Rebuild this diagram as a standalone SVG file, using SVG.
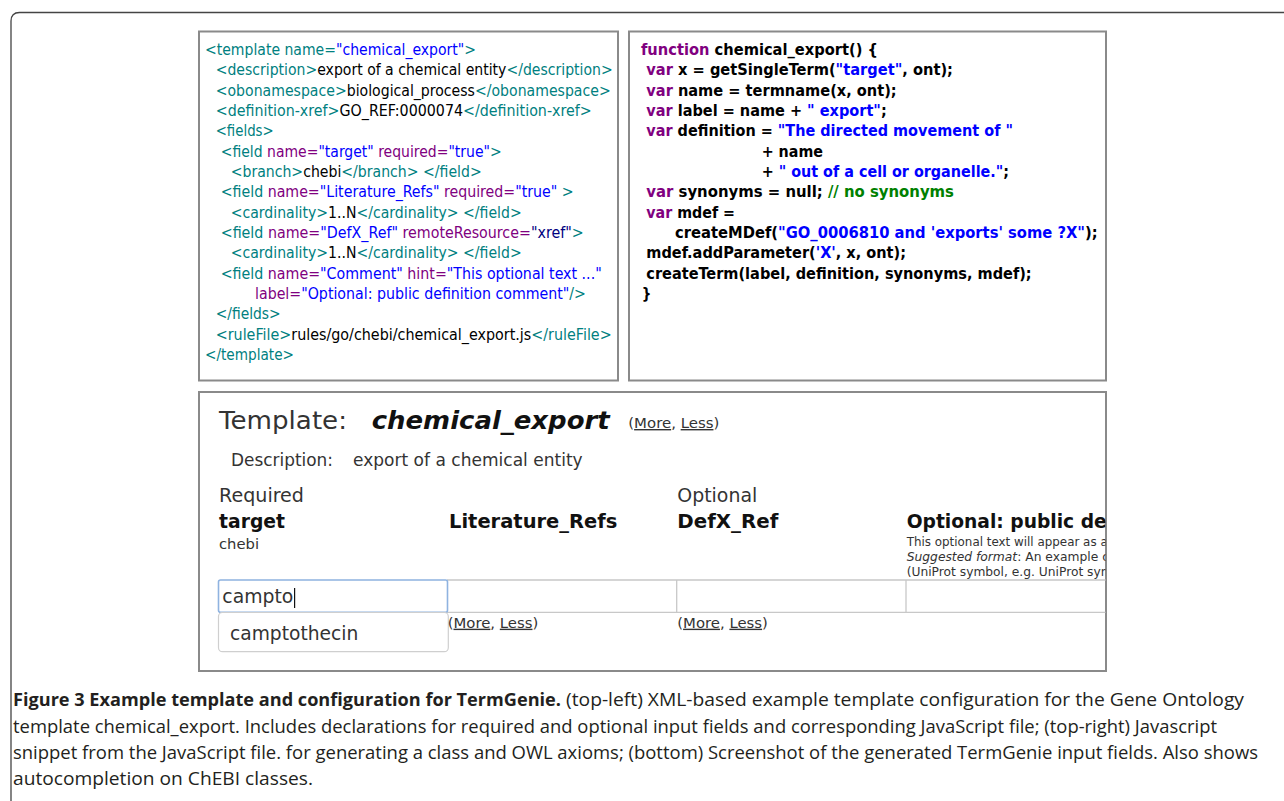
<svg xmlns="http://www.w3.org/2000/svg" width="1284" height="801" viewBox="0 0 1284 801">
<style>
.code{font-family:"DejaVu Sans Condensed","DejaVu Sans",Verdana,sans-serif;font-size:15px;}
.js{font-family:"DejaVu Sans Condensed","DejaVu Sans",Verdana,sans-serif;font-size:15px;font-weight:bold;fill:#000;}
.t{fill:#008080;}
.a{fill:#800080;}
.v{fill:#0000ff;}
.n{fill:#000080;}
.k{fill:#000;}
.p{fill:#800080;}
.g{fill:#008000;}
.box{fill:#fff;stroke:#8a8a8a;stroke-width:2;}
.ui{font-family:"DejaVu Sans",Verdana,sans-serif;fill:#333;}
.b{font-weight:bold;fill:#111;}
.u{text-decoration:underline;}
.cap{font-family:"Liberation Sans Narrow","Open Sans",sans-serif;font-size:18px;fill:#231f20;}
.grid{stroke:#c8c8c8;stroke-width:1.3;fill:none;}
</style>
<defs>
<clipPath id="shotclip"><rect x="200" y="392" width="905.5" height="278"/></clipPath>
</defs>
<rect width="1284" height="801" fill="#fff"/>
<path d="M11,801 V21 Q11,12.5 19.5,12.5 H1284" fill="none" stroke="#444" stroke-width="1.3"/>

<g id="xml-box">
<rect class="box" x="199" y="31.5" width="419" height="349"/>
<text class="code" x="205" y="55" textLength="271" lengthAdjust="spacingAndGlyphs"><tspan class="t">&lt;template name=</tspan><tspan class="v">"chemical_export"</tspan><tspan class="t">&gt;</tspan></text>
<text class="code" x="215.7" y="75.3" textLength="397" lengthAdjust="spacingAndGlyphs"><tspan class="t">&lt;description&gt;</tspan><tspan class="k">export of a chemical entity</tspan><tspan class="t">&lt;/description&gt;</tspan></text>
<text class="code" x="215.7" y="95.7" textLength="395" lengthAdjust="spacingAndGlyphs"><tspan class="t">&lt;obonamespace&gt;</tspan><tspan class="k">biological_process</tspan><tspan class="t">&lt;/obonamespace&gt;</tspan></text>
<text class="code" x="215.7" y="116" textLength="376" lengthAdjust="spacingAndGlyphs"><tspan class="t">&lt;definition-xref&gt;</tspan><tspan class="k">GO_REF:0000074</tspan><tspan class="t">&lt;/definition-xref&gt;</tspan></text>
<text class="code t" x="215.7" y="136.3" textLength="58" lengthAdjust="spacingAndGlyphs">&lt;fields&gt;</text>
<text class="code" x="220.7" y="156.7" textLength="281" lengthAdjust="spacingAndGlyphs"><tspan class="t">&lt;field </tspan><tspan class="a">name=</tspan><tspan class="v">"target"</tspan><tspan class="a"> required=</tspan><tspan class="v">"true"</tspan><tspan class="t">&gt;</tspan></text>
<text class="code" x="230.7" y="177" textLength="251" lengthAdjust="spacingAndGlyphs"><tspan class="t">&lt;branch&gt;</tspan><tspan class="k">chebi</tspan><tspan class="t">&lt;/branch&gt; &lt;/field&gt;</tspan></text>
<text class="code" x="220.7" y="197.3" textLength="353" lengthAdjust="spacingAndGlyphs"><tspan class="t">&lt;field </tspan><tspan class="a">name=</tspan><tspan class="v">"Literature_Refs"</tspan><tspan class="a"> required=</tspan><tspan class="v">"true"</tspan><tspan class="t"> &gt;</tspan></text>
<text class="code" x="230.7" y="217.7" textLength="291" lengthAdjust="spacingAndGlyphs"><tspan class="t">&lt;cardinality&gt;</tspan><tspan class="k">1..N</tspan><tspan class="t">&lt;/cardinality&gt; &lt;/field&gt;</tspan></text>
<text class="code" x="220.7" y="238" textLength="363" lengthAdjust="spacingAndGlyphs"><tspan class="t">&lt;field </tspan><tspan class="a">name=</tspan><tspan class="v">"DefX_Ref"</tspan><tspan class="a"> remoteResource=</tspan><tspan class="n">"xref"</tspan><tspan class="t">&gt;</tspan></text>
<text class="code" x="230.7" y="258.3" textLength="291" lengthAdjust="spacingAndGlyphs"><tspan class="t">&lt;cardinality&gt;</tspan><tspan class="k">1..N</tspan><tspan class="t">&lt;/cardinality&gt; &lt;/field&gt;</tspan></text>
<text class="code" x="220.7" y="278.7" textLength="381" lengthAdjust="spacingAndGlyphs"><tspan class="t">&lt;field </tspan><tspan class="a">name=</tspan><tspan class="v">"Comment"</tspan><tspan class="a"> hint=</tspan><tspan class="v">"This optional text ..."</tspan></text>
<text class="code" x="255" y="299" textLength="331" lengthAdjust="spacingAndGlyphs"><tspan class="a">label=</tspan><tspan class="v">"Optional: public definition comment"</tspan><tspan class="t">/&gt;</tspan></text>
<text class="code t" x="215.7" y="319.3" textLength="65" lengthAdjust="spacingAndGlyphs">&lt;/fields&gt;</text>
<text class="code" x="215.7" y="339.7" textLength="396" lengthAdjust="spacingAndGlyphs"><tspan class="t">&lt;ruleFile&gt;</tspan><tspan class="k">rules/go/chebi/chemical_export.js</tspan><tspan class="t">&lt;/ruleFile&gt;</tspan></text>
<text class="code t" x="205" y="360" textLength="89" lengthAdjust="spacingAndGlyphs">&lt;/template&gt;</text>
</g>

<g id="js-box">
<rect class="box" x="629" y="31.5" width="477" height="349"/>
<text class="js" x="641" y="55" textLength="237" lengthAdjust="spacingAndGlyphs"><tspan class="p">function</tspan> chemical_export() {</text>
<text class="js" x="646.3" y="75.3" textLength="306.7" lengthAdjust="spacingAndGlyphs"><tspan class="p">var</tspan> x = getSingleTerm(<tspan class="v">"target"</tspan>, ont);</text>
<text class="js" x="646.3" y="95.7" textLength="250.4" lengthAdjust="spacingAndGlyphs"><tspan class="p">var</tspan> name = termname(x, ont);</text>
<text class="js" x="646.3" y="116" textLength="240.4" lengthAdjust="spacingAndGlyphs"><tspan class="p">var</tspan> label = name + <tspan class="v">" export"</tspan>;</text>
<text class="js" x="646.3" y="136.3" textLength="366.7" lengthAdjust="spacingAndGlyphs"><tspan class="p">var</tspan> definition = <tspan class="v">"The directed movement of "</tspan></text>
<text class="js" x="761.7" y="156.7" textLength="61.3" lengthAdjust="spacingAndGlyphs">+ name</text>
<text class="js" x="761.7" y="177" textLength="247.3" lengthAdjust="spacingAndGlyphs">+ <tspan class="v">" out of a cell or organelle."</tspan>;</text>
<text class="js" x="646.3" y="197.3" textLength="307.7" lengthAdjust="spacingAndGlyphs"><tspan class="p">var</tspan> synonyms = null; <tspan class="g">// no synonyms</tspan></text>
<text class="js" x="646.3" y="217.7" textLength="88.7" lengthAdjust="spacingAndGlyphs"><tspan class="p">var</tspan> mdef =</text>
<text class="js" x="675" y="238" textLength="422.7" lengthAdjust="spacingAndGlyphs">createMDef(<tspan class="v">"GO_0006810 and 'exports' some ?X"</tspan>);</text>
<text class="js" x="646.3" y="258.3" textLength="259.7" lengthAdjust="spacingAndGlyphs">mdef.addParameter(<tspan class="v">'X'</tspan>, x, ont);</text>
<text class="js" x="646.3" y="278.7" textLength="385.4" lengthAdjust="spacingAndGlyphs">createTerm(label, definition, synonyms, mdef);</text>
<text class="js" x="641.7" y="299">}</text>
</g>

<g id="screenshot">
<rect class="box" x="199" y="392" width="907" height="279"/>
<g clip-path="url(#shotclip)">
<text class="ui" x="219" y="428.5" font-size="24" textLength="128" lengthAdjust="spacingAndGlyphs">Template:</text>
<text class="ui b" x="371.7" y="428.5" font-size="24" font-style="italic" textLength="238" lengthAdjust="spacingAndGlyphs">chemical_export</text>
<text class="ui" x="628.3" y="428" font-size="14" textLength="91" lengthAdjust="spacingAndGlyphs">(<tspan class="u">More</tspan>, <tspan class="u">Less</tspan>)</text>
<text class="ui" x="231" y="466" font-size="17" textLength="102" lengthAdjust="spacingAndGlyphs">Description:</text>
<text class="ui" x="353" y="466" font-size="17" textLength="229.7" lengthAdjust="spacingAndGlyphs">export of a chemical entity</text>
<text class="ui" x="219" y="502.3" font-size="19" textLength="85" lengthAdjust="spacingAndGlyphs">Required</text>
<text class="ui b" x="219" y="527.7" font-size="19" textLength="66" lengthAdjust="spacingAndGlyphs">target</text>
<text class="ui" x="219" y="549" font-size="14" textLength="40" lengthAdjust="spacingAndGlyphs">chebi</text>
<text class="ui b" x="449" y="527.7" font-size="19" textLength="168.3" lengthAdjust="spacingAndGlyphs">Literature_Refs</text>
<text class="ui" x="677.3" y="502.3" font-size="19" textLength="80" lengthAdjust="spacingAndGlyphs">Optional</text>
<text class="ui b" x="677.3" y="527.7" font-size="19" textLength="101" lengthAdjust="spacingAndGlyphs">DefX_Ref</text>
<text class="ui b" x="906.7" y="527.7" font-size="19" textLength="200" lengthAdjust="spacingAndGlyphs">Optional: public de</text>
<text class="ui" x="906.7" y="545.7" font-size="12" textLength="201" lengthAdjust="spacingAndGlyphs">This optional text will appear as a</text>
<text class="ui" x="906.7" y="561" font-size="12" textLength="203" lengthAdjust="spacingAndGlyphs"><tspan font-style="italic">Suggested format</tspan>: An example o</text>
<text class="ui" x="906.7" y="575.7" font-size="12" textLength="206" lengthAdjust="spacingAndGlyphs">(UniProt symbol, e.g. UniProt sym</text>
<path class="grid" d="M447,580 H1106 M447,612.3 H1106 M676.7,580 V612.3 M906,580 V612.3"/>
<rect x="218.5" y="580" width="229" height="32.3" rx="2" fill="#fff" stroke="#8fb3e0" stroke-width="1.6"/>
<text class="ui" x="222.3" y="603.3" font-size="20" fill="#222" textLength="71" lengthAdjust="spacingAndGlyphs">campto</text>
<line x1="294.6" y1="588" x2="294.6" y2="608" stroke="#111" stroke-width="1.2"/>
<rect x="218.5" y="612.5" width="229.8" height="39.2" rx="4" fill="#fff" stroke="#cfcfcf" stroke-width="1.2"/>
<text class="ui" x="230" y="640" font-size="20" textLength="128.3" lengthAdjust="spacingAndGlyphs">camptothecin</text>
<text class="ui" x="447.7" y="627.7" font-size="14" textLength="90.6" lengthAdjust="spacingAndGlyphs">(<tspan class="u">More</tspan>, <tspan class="u">Less</tspan>)</text>
<text class="ui" x="677.3" y="627.7" font-size="14" textLength="90.6" lengthAdjust="spacingAndGlyphs">(<tspan class="u">More</tspan>, <tspan class="u">Less</tspan>)</text>
</g>
</g>

<g id="connectors"></g>

<g id="caption">
<text class="cap" x="13" y="706" font-weight="bold" textLength="548" lengthAdjust="spacingAndGlyphs">Figure 3 Example template and configuration for TermGenie.</text>
<text class="cap" x="566" y="706" textLength="678" lengthAdjust="spacingAndGlyphs">(top-left) XML-based example template configuration for the Gene Ontology</text>
<text class="cap" x="13" y="732.5" textLength="1204" lengthAdjust="spacingAndGlyphs">template chemical_export. Includes declarations for required and optional input fields and corresponding JavaScript file; (top-right) Javascript</text>
<text class="cap" x="13" y="758.5" textLength="1245" lengthAdjust="spacingAndGlyphs">snippet from the JavaScript file. for generating a class and OWL axioms; (bottom) Screenshot of the generated TermGenie input fields. Also shows</text>
<text class="cap" x="13" y="784.5" textLength="300" lengthAdjust="spacingAndGlyphs">autocompletion on ChEBI classes.</text>
</g>
</svg>
